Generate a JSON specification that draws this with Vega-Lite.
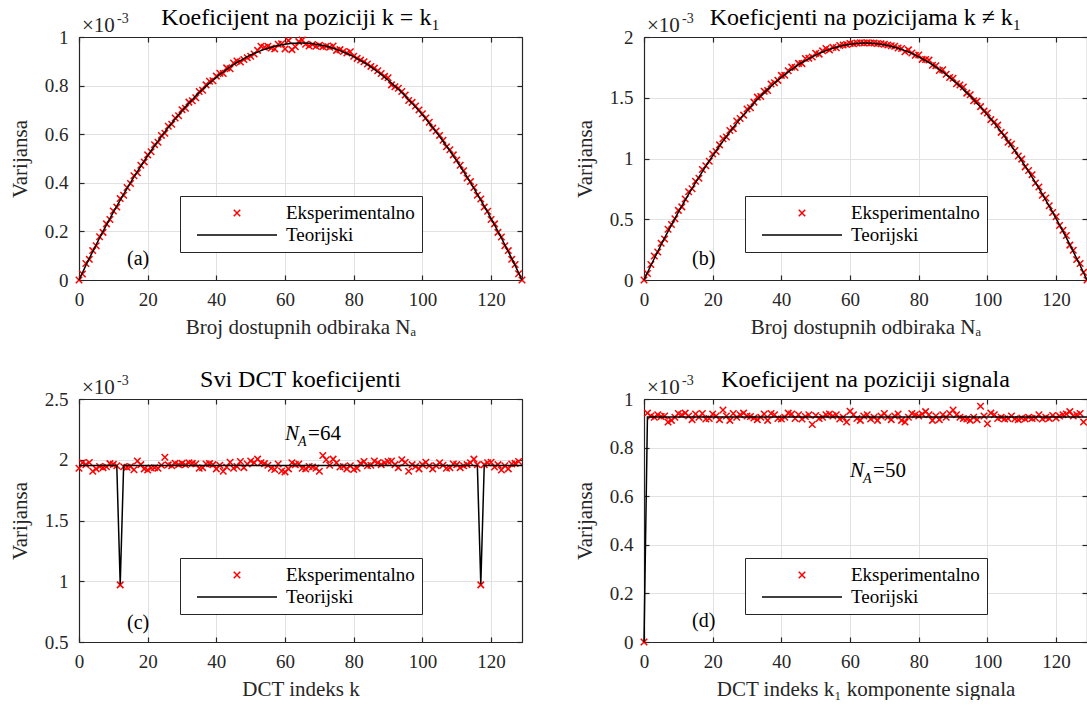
{
"$schema": "https://vega.github.io/schema/vega-lite/v6.json",
"background": "white",
"padding": {"left": 8, "top": 5, "right": 0, "bottom": 0},
"columns": 2,
"spacing": {"row": 119, "column": 122},
"bounds": "flush",
"datasets": {
"a": [{"n":0,"e":0,"t":0},{"n":1,"e":0.025,"t":0.030},{"n":2,"e":0.068,"t":0.060},{"n":3,"e":0.085,"t":0.089},{"n":4,"e":0.121,"t":0.117},{"n":5,"e":0.141,"t":0.145},{"n":6,"e":0.178,"t":0.173},{"n":7,"e":0.196,"t":0.200},{"n":8,"e":0.231,"t":0.227},{"n":9,"e":0.249,"t":0.253},{"n":10,"e":0.284,"t":0.279},{"n":11,"e":0.300,"t":0.304},{"n":12,"e":0.335,"t":0.329},{"n":13,"e":0.349,"t":0.353},{"n":14,"e":0.381,"t":0.377},{"n":15,"e":0.397,"t":0.401},{"n":16,"e":0.429,"t":0.424},{"n":17,"e":0.441,"t":0.446},{"n":18,"e":0.472,"t":0.468},{"n":19,"e":0.486,"t":0.490},{"n":20,"e":0.515,"t":0.511},{"n":21,"e":0.528,"t":0.532},{"n":22,"e":0.557,"t":0.552},{"n":23,"e":0.567,"t":0.571},{"n":24,"e":0.595,"t":0.591},{"n":25,"e":0.604,"t":0.609},{"n":26,"e":0.633,"t":0.628},{"n":27,"e":0.641,"t":0.645},{"n":28,"e":0.667,"t":0.663},{"n":29,"e":0.676,"t":0.680},{"n":30,"e":0.701,"t":0.696},{"n":31,"e":0.707,"t":0.712},{"n":32,"e":0.732,"t":0.727},{"n":33,"e":0.738,"t":0.742},{"n":34,"e":0.750,"t":0.757},{"n":35,"e":0.776,"t":0.771},{"n":36,"e":0.781,"t":0.785},{"n":37,"e":0.803,"t":0.798},{"n":38,"e":0.818,"t":0.810},{"n":39,"e":0.820,"t":0.823},{"n":40,"e":0.839,"t":0.834},{"n":41,"e":0.851,"t":0.846},{"n":42,"e":0.850,"t":0.856},{"n":43,"e":0.873,"t":0.867},{"n":44,"e":0.869,"t":0.877},{"n":45,"e":0.893,"t":0.886},{"n":46,"e":0.901,"t":0.895},{"n":47,"e":0.897,"t":0.903},{"n":48,"e":0.907,"t":0.911},{"n":49,"e":0.915,"t":0.919},{"n":50,"e":0.921,"t":0.926},{"n":51,"e":0.930,"t":0.932},{"n":52,"e":0.945,"t":0.938},{"n":53,"e":0.962,"t":0.944},{"n":54,"e":0.958,"t":0.949},{"n":55,"e":0.962,"t":0.954},{"n":56,"e":0.955,"t":0.958},{"n":57,"e":0.951,"t":0.962},{"n":58,"e":0.970,"t":0.965},{"n":59,"e":0.972,"t":0.968},{"n":60,"e":0.951,"t":0.970},{"n":61,"e":0.985,"t":0.972},{"n":62,"e":0.948,"t":0.974},{"n":63,"e":0.960,"t":0.974},{"n":64,"e":0.981,"t":0.975},{"n":65,"e":0.988,"t":0.975},{"n":66,"e":0.970,"t":0.974},{"n":67,"e":0.963,"t":0.974},{"n":68,"e":0.969,"t":0.972},{"n":69,"e":0.962,"t":0.970},{"n":70,"e":0.966,"t":0.968},{"n":71,"e":0.960,"t":0.965},{"n":72,"e":0.962,"t":0.962},{"n":73,"e":0.958,"t":0.958},{"n":74,"e":0.963,"t":0.954},{"n":75,"e":0.945,"t":0.949},{"n":76,"e":0.948,"t":0.944},{"n":77,"e":0.940,"t":0.938},{"n":78,"e":0.934,"t":0.932},{"n":79,"e":0.939,"t":0.926},{"n":80,"e":0.921,"t":0.919},{"n":81,"e":0.912,"t":0.911},{"n":82,"e":0.905,"t":0.903},{"n":83,"e":0.898,"t":0.895},{"n":84,"e":0.889,"t":0.886},{"n":85,"e":0.879,"t":0.877},{"n":86,"e":0.872,"t":0.867},{"n":87,"e":0.861,"t":0.856},{"n":88,"e":0.850,"t":0.846},{"n":89,"e":0.838,"t":0.834},{"n":90,"e":0.832,"t":0.823},{"n":91,"e":0.803,"t":0.810},{"n":92,"e":0.795,"t":0.798},{"n":93,"e":0.789,"t":0.785},{"n":94,"e":0.776,"t":0.771},{"n":95,"e":0.761,"t":0.757},{"n":96,"e":0.739,"t":0.742},{"n":97,"e":0.731,"t":0.727},{"n":98,"e":0.716,"t":0.712},{"n":99,"e":0.700,"t":0.696},{"n":100,"e":0.684,"t":0.680},{"n":101,"e":0.667,"t":0.663},{"n":102,"e":0.649,"t":0.645},{"n":103,"e":0.625,"t":0.628},{"n":104,"e":0.613,"t":0.609},{"n":105,"e":0.595,"t":0.591},{"n":106,"e":0.575,"t":0.571},{"n":107,"e":0.548,"t":0.552},{"n":108,"e":0.536,"t":0.532},{"n":109,"e":0.515,"t":0.511},{"n":110,"e":0.494,"t":0.490},{"n":111,"e":0.472,"t":0.468},{"n":112,"e":0.450,"t":0.446},{"n":113,"e":0.420,"t":0.424},{"n":114,"e":0.405,"t":0.401},{"n":115,"e":0.381,"t":0.377},{"n":116,"e":0.349,"t":0.353},{"n":117,"e":0.333,"t":0.329},{"n":118,"e":0.300,"t":0.304},{"n":119,"e":0.283,"t":0.279},{"n":120,"e":0.249,"t":0.253},{"n":121,"e":0.231,"t":0.227},{"n":122,"e":0.196,"t":0.200},{"n":123,"e":0.177,"t":0.173},{"n":124,"e":0.141,"t":0.145},{"n":125,"e":0.121,"t":0.117},{"n":126,"e":0.085,"t":0.089},{"n":127,"e":0.064,"t":0.060},{"n":128,"e":0.026,"t":0.030},{"n":129,"e":0,"t":0}],
"b": [{"n":0,"e":0,"t":0},{"n":1,"e":0.054,"t":0.060},{"n":2,"e":0.128,"t":0.119},{"n":3,"e":0.197,"t":0.177},{"n":4,"e":0.230,"t":0.234},{"n":5,"e":0.302,"t":0.291},{"n":6,"e":0.337,"t":0.346},{"n":7,"e":0.417,"t":0.400},{"n":8,"e":0.457,"t":0.454},{"n":9,"e":0.504,"t":0.506},{"n":10,"e":0.573,"t":0.558},{"n":11,"e":0.602,"t":0.608},{"n":12,"e":0.667,"t":0.658},{"n":13,"e":0.727,"t":0.707},{"n":14,"e":0.751,"t":0.755},{"n":15,"e":0.813,"t":0.802},{"n":16,"e":0.838,"t":0.847},{"n":17,"e":0.909,"t":0.892},{"n":18,"e":0.940,"t":0.937},{"n":19,"e":0.978,"t":0.980},{"n":20,"e":1.037,"t":1.022},{"n":21,"e":1.057,"t":1.063},{"n":22,"e":1.112,"t":1.103},{"n":23,"e":1.163,"t":1.143},{"n":24,"e":1.177,"t":1.181},{"n":25,"e":1.230,"t":1.219},{"n":26,"e":1.246,"t":1.255},{"n":27,"e":1.308,"t":1.291},{"n":28,"e":1.329,"t":1.326},{"n":29,"e":1.357,"t":1.359},{"n":30,"e":1.407,"t":1.392},{"n":31,"e":1.418,"t":1.424},{"n":32,"e":1.464,"t":1.455},{"n":33,"e":1.505,"t":1.485},{"n":34,"e":1.510,"t":1.514},{"n":35,"e":1.553,"t":1.542},{"n":36,"e":1.560,"t":1.569},{"n":37,"e":1.613,"t":1.596},{"n":38,"e":1.624,"t":1.621},{"n":39,"e":1.643,"t":1.645},{"n":40,"e":1.684,"t":1.669},{"n":41,"e":1.685,"t":1.691},{"n":42,"e":1.722,"t":1.713},{"n":43,"e":1.753,"t":1.733},{"n":44,"e":1.749,"t":1.753},{"n":45,"e":1.783,"t":1.772},{"n":46,"e":1.781,"t":1.790},{"n":47,"e":1.823,"t":1.806},{"n":48,"e":1.825,"t":1.822},{"n":49,"e":1.835,"t":1.837},{"n":50,"e":1.866,"t":1.851},{"n":51,"e":1.859,"t":1.865},{"n":52,"e":1.886,"t":1.877},{"n":53,"e":1.905,"t":1.888},{"n":54,"e":1.894,"t":1.898},{"n":55,"e":1.915,"t":1.908},{"n":56,"e":1.912,"t":1.916},{"n":57,"e":1.930,"t":1.924},{"n":58,"e":1.934,"t":1.930},{"n":59,"e":1.938,"t":1.936},{"n":60,"e":1.947,"t":1.941},{"n":61,"e":1.945,"t":1.944},{"n":62,"e":1.950,"t":1.947},{"n":63,"e":1.952,"t":1.949},{"n":64,"e":1.951,"t":1.950},{"n":65,"e":1.953,"t":1.950},{"n":66,"e":1.950,"t":1.949},{"n":67,"e":1.951,"t":1.947},{"n":68,"e":1.947,"t":1.944},{"n":69,"e":1.944,"t":1.941},{"n":70,"e":1.940,"t":1.936},{"n":71,"e":1.935,"t":1.930},{"n":72,"e":1.928,"t":1.924},{"n":73,"e":1.924,"t":1.916},{"n":74,"e":1.910,"t":1.908},{"n":75,"e":1.905,"t":1.898},{"n":76,"e":1.879,"t":1.888},{"n":77,"e":1.894,"t":1.877},{"n":78,"e":1.868,"t":1.865},{"n":79,"e":1.849,"t":1.851},{"n":80,"e":1.852,"t":1.837},{"n":81,"e":1.816,"t":1.822},{"n":82,"e":1.815,"t":1.806},{"n":83,"e":1.810,"t":1.790},{"n":84,"e":1.768,"t":1.772},{"n":85,"e":1.764,"t":1.753},{"n":86,"e":1.724,"t":1.733},{"n":87,"e":1.730,"t":1.713},{"n":88,"e":1.694,"t":1.691},{"n":89,"e":1.667,"t":1.669},{"n":90,"e":1.660,"t":1.645},{"n":91,"e":1.615,"t":1.621},{"n":92,"e":1.605,"t":1.596},{"n":93,"e":1.589,"t":1.569},{"n":94,"e":1.538,"t":1.542},{"n":95,"e":1.525,"t":1.514},{"n":96,"e":1.476,"t":1.485},{"n":97,"e":1.472,"t":1.455},{"n":98,"e":1.427,"t":1.424},{"n":99,"e":1.390,"t":1.392},{"n":100,"e":1.374,"t":1.359},{"n":101,"e":1.320,"t":1.326},{"n":102,"e":1.300,"t":1.291},{"n":103,"e":1.275,"t":1.255},{"n":104,"e":1.215,"t":1.219},{"n":105,"e":1.192,"t":1.181},{"n":106,"e":1.134,"t":1.143},{"n":107,"e":1.120,"t":1.103},{"n":108,"e":1.066,"t":1.063},{"n":109,"e":1.020,"t":1.022},{"n":110,"e":0.995,"t":0.980},{"n":111,"e":0.931,"t":0.937},{"n":112,"e":0.901,"t":0.892},{"n":113,"e":0.867,"t":0.847},{"n":114,"e":0.798,"t":0.802},{"n":115,"e":0.766,"t":0.755},{"n":116,"e":0.698,"t":0.707},{"n":117,"e":0.675,"t":0.658},{"n":118,"e":0.611,"t":0.608},{"n":119,"e":0.556,"t":0.558},{"n":120,"e":0.521,"t":0.506},{"n":121,"e":0.448,"t":0.454},{"n":122,"e":0.409,"t":0.400},{"n":123,"e":0.366,"t":0.346},{"n":124,"e":0.287,"t":0.291},{"n":125,"e":0.245,"t":0.234},{"n":126,"e":0.168,"t":0.177},{"n":127,"e":0.136,"t":0.119},{"n":128,"e":0.063,"t":0.060},{"n":129,"e":0,"t":0}],
"c": [{"n":0,"e":1.930,"t":1.953},{"n":1,"e":1.975,"t":1.953},{"n":2,"e":1.960,"t":1.953},{"n":3,"e":1.978,"t":1.953},{"n":4,"e":1.905,"t":1.953},{"n":5,"e":1.925,"t":1.953},{"n":6,"e":1.945,"t":1.953},{"n":7,"e":1.935,"t":1.953},{"n":8,"e":1.942,"t":1.953},{"n":9,"e":1.968,"t":1.953},{"n":10,"e":1.962,"t":1.953},{"n":11,"e":1.950,"t":1.953},{"n":12,"e":0.970,"t":0.976},{"n":13,"e":1.942,"t":1.953},{"n":14,"e":1.938,"t":1.953},{"n":15,"e":1.945,"t":1.953},{"n":16,"e":1.918,"t":1.953},{"n":17,"e":1.990,"t":1.953},{"n":18,"e":1.960,"t":1.953},{"n":19,"e":1.925,"t":1.953},{"n":20,"e":1.915,"t":1.953},{"n":21,"e":1.932,"t":1.953},{"n":22,"e":1.935,"t":1.953},{"n":23,"e":1.930,"t":1.953},{"n":24,"e":1.955,"t":1.953},{"n":25,"e":2.020,"t":1.953},{"n":26,"e":1.958,"t":1.953},{"n":27,"e":1.950,"t":1.953},{"n":28,"e":1.972,"t":1.953},{"n":29,"e":1.960,"t":1.953},{"n":30,"e":1.970,"t":1.953},{"n":31,"e":1.958,"t":1.953},{"n":32,"e":1.975,"t":1.953},{"n":33,"e":1.970,"t":1.953},{"n":34,"e":1.965,"t":1.953},{"n":35,"e":1.930,"t":1.953},{"n":36,"e":1.935,"t":1.953},{"n":37,"e":1.965,"t":1.953},{"n":38,"e":1.968,"t":1.953},{"n":39,"e":1.960,"t":1.953},{"n":40,"e":1.925,"t":1.953},{"n":41,"e":1.955,"t":1.953},{"n":42,"e":1.905,"t":1.953},{"n":43,"e":1.940,"t":1.953},{"n":44,"e":1.980,"t":1.953},{"n":45,"e":1.930,"t":1.953},{"n":46,"e":1.945,"t":1.953},{"n":47,"e":1.985,"t":1.953},{"n":48,"e":1.935,"t":1.953},{"n":49,"e":1.965,"t":1.953},{"n":50,"e":1.990,"t":1.953},{"n":51,"e":1.975,"t":1.953},{"n":52,"e":2.005,"t":1.953},{"n":53,"e":1.975,"t":1.953},{"n":54,"e":1.968,"t":1.953},{"n":55,"e":1.955,"t":1.953},{"n":56,"e":1.930,"t":1.953},{"n":57,"e":1.920,"t":1.953},{"n":58,"e":1.965,"t":1.953},{"n":59,"e":1.908,"t":1.953},{"n":60,"e":1.900,"t":1.953},{"n":61,"e":1.925,"t":1.953},{"n":62,"e":1.975,"t":1.953},{"n":63,"e":1.960,"t":1.953},{"n":64,"e":1.965,"t":1.953},{"n":65,"e":1.930,"t":1.953},{"n":66,"e":1.925,"t":1.953},{"n":67,"e":1.945,"t":1.953},{"n":68,"e":1.940,"t":1.953},{"n":69,"e":1.930,"t":1.953},{"n":70,"e":1.905,"t":1.953},{"n":71,"e":2.035,"t":1.953},{"n":72,"e":2.000,"t":1.953},{"n":73,"e":1.955,"t":1.953},{"n":74,"e":2.005,"t":1.953},{"n":75,"e":1.975,"t":1.953},{"n":76,"e":1.940,"t":1.953},{"n":77,"e":1.945,"t":1.953},{"n":78,"e":1.925,"t":1.953},{"n":79,"e":1.950,"t":1.953},{"n":80,"e":1.920,"t":1.953},{"n":81,"e":1.930,"t":1.953},{"n":82,"e":1.970,"t":1.953},{"n":83,"e":1.985,"t":1.953},{"n":84,"e":1.950,"t":1.953},{"n":85,"e":1.955,"t":1.953},{"n":86,"e":1.990,"t":1.953},{"n":87,"e":1.975,"t":1.953},{"n":88,"e":1.960,"t":1.953},{"n":89,"e":1.975,"t":1.953},{"n":90,"e":1.985,"t":1.953},{"n":91,"e":1.990,"t":1.953},{"n":92,"e":1.960,"t":1.953},{"n":93,"e":1.935,"t":1.953},{"n":94,"e":2.000,"t":1.953},{"n":95,"e":1.980,"t":1.953},{"n":96,"e":1.905,"t":1.953},{"n":97,"e":1.960,"t":1.953},{"n":98,"e":1.945,"t":1.953},{"n":99,"e":1.925,"t":1.953},{"n":100,"e":1.960,"t":1.953},{"n":101,"e":1.980,"t":1.953},{"n":102,"e":1.950,"t":1.953},{"n":103,"e":1.925,"t":1.953},{"n":104,"e":1.950,"t":1.953},{"n":105,"e":1.975,"t":1.953},{"n":106,"e":1.955,"t":1.953},{"n":107,"e":1.930,"t":1.953},{"n":108,"e":1.935,"t":1.953},{"n":109,"e":1.965,"t":1.953},{"n":110,"e":1.960,"t":1.953},{"n":111,"e":1.935,"t":1.953},{"n":112,"e":1.950,"t":1.953},{"n":113,"e":1.960,"t":1.953},{"n":114,"e":1.975,"t":1.953},{"n":115,"e":2.005,"t":1.953},{"n":116,"e":1.960,"t":1.953},{"n":117,"e":0.970,"t":0.976},{"n":118,"e":1.960,"t":1.953},{"n":119,"e":1.975,"t":1.953},{"n":120,"e":1.980,"t":1.953},{"n":121,"e":1.940,"t":1.953},{"n":122,"e":1.960,"t":1.953},{"n":123,"e":1.915,"t":1.953},{"n":124,"e":1.950,"t":1.953},{"n":125,"e":1.925,"t":1.953},{"n":126,"e":1.965,"t":1.953},{"n":127,"e":1.970,"t":1.953},{"n":128,"e":1.985,"t":1.953},{"n":129,"t":1.953}],
"d": [{"n":0,"e":0,"t":0},{"n":1,"e":0.942,"t":0.926},{"n":2,"e":0.930,"t":0.926},{"n":3,"e":0.925,"t":0.926},{"n":4,"e":0.935,"t":0.926},{"n":5,"e":0.928,"t":0.926},{"n":6,"e":0.930,"t":0.926},{"n":7,"e":0.905,"t":0.926},{"n":8,"e":0.912,"t":0.926},{"n":9,"e":0.925,"t":0.926},{"n":10,"e":0.940,"t":0.926},{"n":11,"e":0.935,"t":0.926},{"n":12,"e":0.942,"t":0.926},{"n":13,"e":0.930,"t":0.926},{"n":14,"e":0.915,"t":0.926},{"n":15,"e":0.938,"t":0.926},{"n":16,"e":0.925,"t":0.926},{"n":17,"e":0.940,"t":0.926},{"n":18,"e":0.918,"t":0.926},{"n":19,"e":0.920,"t":0.926},{"n":20,"e":0.938,"t":0.926},{"n":21,"e":0.930,"t":0.926},{"n":22,"e":0.915,"t":0.926},{"n":23,"e":0.955,"t":0.926},{"n":24,"e":0.930,"t":0.926},{"n":25,"e":0.912,"t":0.926},{"n":26,"e":0.940,"t":0.926},{"n":27,"e":0.925,"t":0.926},{"n":28,"e":0.935,"t":0.926},{"n":29,"e":0.942,"t":0.926},{"n":30,"e":0.930,"t":0.926},{"n":31,"e":0.928,"t":0.926},{"n":32,"e":0.922,"t":0.926},{"n":33,"e":0.915,"t":0.926},{"n":34,"e":0.925,"t":0.926},{"n":35,"e":0.938,"t":0.926},{"n":36,"e":0.912,"t":0.926},{"n":37,"e":0.940,"t":0.926},{"n":38,"e":0.935,"t":0.926},{"n":39,"e":0.920,"t":0.926},{"n":40,"e":0.918,"t":0.926},{"n":41,"e":0.925,"t":0.926},{"n":42,"e":0.942,"t":0.926},{"n":43,"e":0.938,"t":0.926},{"n":44,"e":0.920,"t":0.926},{"n":45,"e":0.935,"t":0.926},{"n":46,"e":0.918,"t":0.926},{"n":47,"e":0.928,"t":0.926},{"n":48,"e":0.935,"t":0.926},{"n":49,"e":0.895,"t":0.926},{"n":50,"e":0.932,"t":0.926},{"n":51,"e":0.920,"t":0.926},{"n":52,"e":0.925,"t":0.926},{"n":53,"e":0.935,"t":0.926},{"n":54,"e":0.938,"t":0.926},{"n":55,"e":0.930,"t":0.926},{"n":56,"e":0.935,"t":0.926},{"n":57,"e":0.918,"t":0.926},{"n":58,"e":0.925,"t":0.926},{"n":59,"e":0.905,"t":0.926},{"n":60,"e":0.950,"t":0.926},{"n":61,"e":0.935,"t":0.926},{"n":62,"e":0.920,"t":0.926},{"n":63,"e":0.912,"t":0.926},{"n":64,"e":0.930,"t":0.926},{"n":65,"e":0.935,"t":0.926},{"n":66,"e":0.918,"t":0.926},{"n":67,"e":0.925,"t":0.926},{"n":68,"e":0.912,"t":0.926},{"n":69,"e":0.930,"t":0.926},{"n":70,"e":0.940,"t":0.926},{"n":71,"e":0.925,"t":0.926},{"n":72,"e":0.915,"t":0.926},{"n":73,"e":0.930,"t":0.926},{"n":74,"e":0.938,"t":0.926},{"n":75,"e":0.912,"t":0.926},{"n":76,"e":0.905,"t":0.926},{"n":77,"e":0.925,"t":0.926},{"n":78,"e":0.940,"t":0.926},{"n":79,"e":0.935,"t":0.926},{"n":80,"e":0.930,"t":0.926},{"n":81,"e":0.938,"t":0.926},{"n":82,"e":0.948,"t":0.926},{"n":83,"e":0.935,"t":0.926},{"n":84,"e":0.912,"t":0.926},{"n":85,"e":0.930,"t":0.926},{"n":86,"e":0.915,"t":0.926},{"n":87,"e":0.935,"t":0.926},{"n":88,"e":0.925,"t":0.926},{"n":89,"e":0.940,"t":0.926},{"n":90,"e":0.955,"t":0.926},{"n":91,"e":0.935,"t":0.926},{"n":92,"e":0.925,"t":0.926},{"n":93,"e":0.920,"t":0.926},{"n":94,"e":0.918,"t":0.926},{"n":95,"e":0.912,"t":0.926},{"n":96,"e":0.925,"t":0.926},{"n":97,"e":0.915,"t":0.926},{"n":98,"e":0.970,"t":0.926},{"n":99,"e":0.930,"t":0.926},{"n":100,"e":0.898,"t":0.926},{"n":101,"e":0.942,"t":0.926},{"n":102,"e":0.935,"t":0.926},{"n":103,"e":0.920,"t":0.926},{"n":104,"e":0.925,"t":0.926},{"n":105,"e":0.918,"t":0.926},{"n":106,"e":0.920,"t":0.926},{"n":107,"e":0.930,"t":0.926},{"n":108,"e":0.918,"t":0.926},{"n":109,"e":0.915,"t":0.926},{"n":110,"e":0.922,"t":0.926},{"n":111,"e":0.918,"t":0.926},{"n":112,"e":0.925,"t":0.926},{"n":113,"e":0.920,"t":0.926},{"n":114,"e":0.922,"t":0.926},{"n":115,"e":0.935,"t":0.926},{"n":116,"e":0.918,"t":0.926},{"n":117,"e":0.925,"t":0.926},{"n":118,"e":0.920,"t":0.926},{"n":119,"e":0.932,"t":0.926},{"n":120,"e":0.922,"t":0.926},{"n":121,"e":0.930,"t":0.926},{"n":122,"e":0.935,"t":0.926},{"n":123,"e":0.938,"t":0.926},{"n":124,"e":0.948,"t":0.926},{"n":125,"e":0.930,"t":0.926},{"n":126,"e":0.935,"t":0.926},{"n":127,"e":0.940,"t":0.926},{"n":128,"e":0.905,"t":0.926},{"n":129,"t":0.926}]
},
"resolve": {"scale": {"color": "independent", "shape": "independent", "size": "independent"}, "legend": {"color": "independent", "shape": "independent", "size": "independent"}},
"concat": [
{
"width": 443, "height": 243,
"title": {"text": "Koeficijent na poziciji k = k₁"},
"data": {"name": "a"},
"resolve": {"axis": {"x": "independent", "y": "independent"}},
"layer": [
{"mark": {"type": "point", "filled": false, "strokeWidth": 1.5, "opacity": 1},
 "encoding": {
  "x": {"field": "n", "type": "quantitative", "scale": {"domain": [0, 129], "nice": false, "zero": false}, "axis": {"values": [0,20,40,60,80,100,120], "title": "Broj dostupnih odbiraka Nₐ"}},
  "y": {"field": "e", "type": "quantitative", "scale": {"domain": [0, 1], "nice": false, "zero": false}, "axis": {"values": [0,0.2,0.4,0.6,0.8,1], "format": "~g", "title": "Varijansa"}},
  "color": {"datum": "Eksperimentalno", "type": "nominal", "scale": {"domain": ["Eksperimentalno", "Teorijski"], "range": ["#ff0000", "#000000"]}, "legend": {"title": null, "orient": "none", "legendX": 101, "legendY": 159}},
  "shape": {"datum": "Eksperimentalno", "type": "nominal", "scale": {"domain": ["Eksperimentalno", "Teorijski"], "range": ["M-1,-1L1,1M1,-1L-1,1", "stroke"]}, "legend": {"title": null, "orient": "none", "legendX": 101, "legendY": 159}},
  "size": {"datum": "Eksperimentalno", "type": "nominal", "scale": {"type": "ordinal", "domain": ["Eksperimentalno", "Teorijski"], "range": [42, 6400]}, "legend": {"title": null, "orient": "none", "legendX": 101, "legendY": 159}}
 }},
{"mark": {"type": "line", "color": "black", "strokeWidth": 1.5},
 "encoding": {
  "x": {"field": "n", "type": "quantitative", "axis": {"orient": "top", "labels": false, "grid": false, "title": null, "values": [0,20,40,60,80,100,120]}},
  "y": {"field": "t", "type": "quantitative", "axis": {"orient": "right", "labels": false, "grid": false, "title": null, "values": [0,0.2,0.4,0.6,0.8,1]}}
 }},
{"data": {"values": [{"n": 14, "v": 0.085, "s": "(a)"}]},
 "mark": {"type": "text", "align": "left", "fontSize": 20, "font": "Liberation Serif", "color": "black"},
 "encoding": {"x": {"field": "n", "type": "quantitative", "axis": null}, "y": {"field": "v", "type": "quantitative", "axis": null}, "text": {"field": "s"}}},
{"data": {"values": [{"n": 0, "v": 1, "s": "×10"}]},
 "mark": {"type": "text", "align": "left", "baseline": "alphabetic", "dx": 3, "dy": -5, "fontSize": 21, "font": "Liberation Serif", "color": "#262626"},
 "encoding": {"x": {"field": "n", "type": "quantitative", "axis": null}, "y": {"field": "v", "type": "quantitative", "axis": null}, "text": {"field": "s"}}},
{"data": {"values": [{"n": 0, "v": 1, "s": "-3"}]},
 "mark": {"type": "text", "align": "left", "baseline": "alphabetic", "dx": 38, "dy": -14, "fontSize": 14, "font": "Liberation Serif", "color": "#262626"},
 "encoding": {"x": {"field": "n", "type": "quantitative", "axis": null}, "y": {"field": "v", "type": "quantitative", "axis": null}, "text": {"field": "s"}}}
]
},
{
"width": 443, "height": 243,
"title": {"text": "Koeficjenti na pozicijama k ≠ k₁"},
"data": {"name": "b"},
"resolve": {"axis": {"x": "independent", "y": "independent"}},
"layer": [
{"mark": {"type": "point", "filled": false, "strokeWidth": 1.5, "opacity": 1},
 "encoding": {
  "x": {"field": "n", "type": "quantitative", "scale": {"domain": [0, 129], "nice": false, "zero": false}, "axis": {"values": [0,20,40,60,80,100,120], "title": "Broj dostupnih odbiraka Nₐ"}},
  "y": {"field": "e", "type": "quantitative", "scale": {"domain": [0, 2], "nice": false, "zero": false}, "axis": {"values": [0,0.5,1,1.5,2], "format": "~g", "title": "Varijansa"}},
  "color": {"datum": "Eksperimentalno", "type": "nominal", "scale": {"domain": ["Eksperimentalno", "Teorijski"], "range": ["#ff0000", "#000000"]}, "legend": {"title": null, "orient": "none", "legendX": 101, "legendY": 159}},
  "shape": {"datum": "Eksperimentalno", "type": "nominal", "scale": {"domain": ["Eksperimentalno", "Teorijski"], "range": ["M-1,-1L1,1M1,-1L-1,1", "stroke"]}, "legend": {"title": null, "orient": "none", "legendX": 101, "legendY": 159}},
  "size": {"datum": "Eksperimentalno", "type": "nominal", "scale": {"type": "ordinal", "domain": ["Eksperimentalno", "Teorijski"], "range": [42, 6400]}, "legend": {"title": null, "orient": "none", "legendX": 101, "legendY": 159}}
 }},
{"mark": {"type": "line", "color": "black", "strokeWidth": 1.5},
 "encoding": {
  "x": {"field": "n", "type": "quantitative", "axis": {"orient": "top", "labels": false, "grid": false, "title": null, "values": [0,20,40,60,80,100,120]}},
  "y": {"field": "t", "type": "quantitative", "axis": {"orient": "right", "labels": false, "grid": false, "title": null, "values": [0,0.5,1,1.5,2]}}
 }},
{"data": {"values": [{"n": 14, "v": 0.175, "s": "(b)"}]},
 "mark": {"type": "text", "align": "left", "fontSize": 20, "font": "Liberation Serif", "color": "black"},
 "encoding": {"x": {"field": "n", "type": "quantitative", "axis": null}, "y": {"field": "v", "type": "quantitative", "axis": null}, "text": {"field": "s"}}},
{"data": {"values": [{"n": 0, "v": 2, "s": "×10"}]},
 "mark": {"type": "text", "align": "left", "baseline": "alphabetic", "dx": 3, "dy": -5, "fontSize": 21, "font": "Liberation Serif", "color": "#262626"},
 "encoding": {"x": {"field": "n", "type": "quantitative", "axis": null}, "y": {"field": "v", "type": "quantitative", "axis": null}, "text": {"field": "s"}}},
{"data": {"values": [{"n": 0, "v": 2, "s": "-3"}]},
 "mark": {"type": "text", "align": "left", "baseline": "alphabetic", "dx": 38, "dy": -14, "fontSize": 14, "font": "Liberation Serif", "color": "#262626"},
 "encoding": {"x": {"field": "n", "type": "quantitative", "axis": null}, "y": {"field": "v", "type": "quantitative", "axis": null}, "text": {"field": "s"}}}
]
},
{
"width": 443, "height": 243,
"title": {"text": "Svi DCT koeficijenti"},
"data": {"name": "c"},
"resolve": {"axis": {"x": "independent", "y": "independent"}},
"layer": [
{"mark": {"type": "point", "filled": false, "strokeWidth": 1.5, "opacity": 1},
 "encoding": {
  "x": {"field": "n", "type": "quantitative", "scale": {"domain": [0, 129], "nice": false, "zero": false}, "axis": {"values": [0,20,40,60,80,100,120], "title": "DCT indeks k"}},
  "y": {"field": "e", "type": "quantitative", "scale": {"domain": [0.5, 2.5], "nice": false, "zero": false}, "axis": {"values": [0.5,1,1.5,2,2.5], "format": "~g", "title": "Varijansa"}},
  "color": {"datum": "Eksperimentalno", "type": "nominal", "scale": {"domain": ["Eksperimentalno", "Teorijski"], "range": ["#ff0000", "#000000"]}, "legend": {"title": null, "orient": "none", "legendX": 101, "legendY": 159}},
  "shape": {"datum": "Eksperimentalno", "type": "nominal", "scale": {"domain": ["Eksperimentalno", "Teorijski"], "range": ["M-1,-1L1,1M1,-1L-1,1", "stroke"]}, "legend": {"title": null, "orient": "none", "legendX": 101, "legendY": 159}},
  "size": {"datum": "Eksperimentalno", "type": "nominal", "scale": {"type": "ordinal", "domain": ["Eksperimentalno", "Teorijski"], "range": [42, 6400]}, "legend": {"title": null, "orient": "none", "legendX": 101, "legendY": 159}}
 }},
{"mark": {"type": "line", "color": "black", "strokeWidth": 1.5},
 "encoding": {
  "x": {"field": "n", "type": "quantitative", "axis": {"orient": "top", "labels": false, "grid": false, "title": null, "values": [0,20,40,60,80,100,120]}},
  "y": {"field": "t", "type": "quantitative", "axis": {"orient": "right", "labels": false, "grid": false, "title": null, "values": [0.5,1,1.5,2,2.5]}}
 }},
{"data": {"values": [{"n": 14, "v": 0.66, "s": "(c)"}]},
 "mark": {"type": "text", "align": "left", "fontSize": 20, "font": "Liberation Serif", "color": "black"},
 "encoding": {"x": {"field": "n", "type": "quantitative", "axis": null}, "y": {"field": "v", "type": "quantitative", "axis": null}, "text": {"field": "s"}}},
{"data": {"values": [{"n": 60, "v": 2.16, "s": "N"}]},
 "mark": {"type": "text", "align": "left", "baseline": "alphabetic", "fontSize": 21, "fontStyle": "italic", "font": "Liberation Serif", "color": "black"},
 "encoding": {"x": {"field": "n", "type": "quantitative", "axis": null}, "y": {"field": "v", "type": "quantitative", "axis": null}, "text": {"field": "s"}}},
{"data": {"values": [{"n": 60, "v": 2.16, "s": "A"}]},
 "mark": {"type": "text", "align": "left", "baseline": "alphabetic", "dx": 13, "dy": 6, "fontSize": 14, "fontStyle": "italic", "font": "Liberation Serif", "color": "black"},
 "encoding": {"x": {"field": "n", "type": "quantitative", "axis": null}, "y": {"field": "v", "type": "quantitative", "axis": null}, "text": {"field": "s"}}},
{"data": {"values": [{"n": 60, "v": 2.16, "s": "=64"}]},
 "mark": {"type": "text", "align": "left", "baseline": "alphabetic", "dx": 23, "fontSize": 21, "font": "Liberation Serif", "color": "black"},
 "encoding": {"x": {"field": "n", "type": "quantitative", "axis": null}, "y": {"field": "v", "type": "quantitative", "axis": null}, "text": {"field": "s"}}},
{"data": {"values": [{"n": 0, "v": 2.5, "s": "×10"}]},
 "mark": {"type": "text", "align": "left", "baseline": "alphabetic", "dx": 3, "dy": -5, "fontSize": 21, "font": "Liberation Serif", "color": "#262626"},
 "encoding": {"x": {"field": "n", "type": "quantitative", "axis": null}, "y": {"field": "v", "type": "quantitative", "axis": null}, "text": {"field": "s"}}},
{"data": {"values": [{"n": 0, "v": 2.5, "s": "-3"}]},
 "mark": {"type": "text", "align": "left", "baseline": "alphabetic", "dx": 38, "dy": -14, "fontSize": 14, "font": "Liberation Serif", "color": "#262626"},
 "encoding": {"x": {"field": "n", "type": "quantitative", "axis": null}, "y": {"field": "v", "type": "quantitative", "axis": null}, "text": {"field": "s"}}}
]
},
{
"width": 443, "height": 243,
"title": {"text": "Koeficijent na poziciji signala"},
"data": {"name": "d"},
"resolve": {"axis": {"x": "independent", "y": "independent"}},
"layer": [
{"mark": {"type": "point", "filled": false, "strokeWidth": 1.5, "opacity": 1},
 "encoding": {
  "x": {"field": "n", "type": "quantitative", "scale": {"domain": [0, 129], "nice": false, "zero": false}, "axis": {"values": [0,20,40,60,80,100,120], "title": "DCT indeks k₁ komponente signala"}},
  "y": {"field": "e", "type": "quantitative", "scale": {"domain": [0, 1], "nice": false, "zero": false}, "axis": {"values": [0,0.2,0.4,0.6,0.8,1], "format": "~g", "title": "Varijansa"}},
  "color": {"datum": "Eksperimentalno", "type": "nominal", "scale": {"domain": ["Eksperimentalno", "Teorijski"], "range": ["#ff0000", "#000000"]}, "legend": {"title": null, "orient": "none", "legendX": 101, "legendY": 159}},
  "shape": {"datum": "Eksperimentalno", "type": "nominal", "scale": {"domain": ["Eksperimentalno", "Teorijski"], "range": ["M-1,-1L1,1M1,-1L-1,1", "stroke"]}, "legend": {"title": null, "orient": "none", "legendX": 101, "legendY": 159}},
  "size": {"datum": "Eksperimentalno", "type": "nominal", "scale": {"type": "ordinal", "domain": ["Eksperimentalno", "Teorijski"], "range": [42, 6400]}, "legend": {"title": null, "orient": "none", "legendX": 101, "legendY": 159}}
 }},
{"mark": {"type": "line", "color": "black", "strokeWidth": 1.5},
 "encoding": {
  "x": {"field": "n", "type": "quantitative", "axis": {"orient": "top", "labels": false, "grid": false, "title": null, "values": [0,20,40,60,80,100,120]}},
  "y": {"field": "t", "type": "quantitative", "axis": {"orient": "right", "labels": false, "grid": false, "title": null, "values": [0,0.2,0.4,0.6,0.8,1]}}
 }},
{"data": {"values": [{"n": 14, "v": 0.085, "s": "(d)"}]},
 "mark": {"type": "text", "align": "left", "fontSize": 20, "font": "Liberation Serif", "color": "black"},
 "encoding": {"x": {"field": "n", "type": "quantitative", "axis": null}, "y": {"field": "v", "type": "quantitative", "axis": null}, "text": {"field": "s"}}},
{"data": {"values": [{"n": 60, "v": 0.68, "s": "N"}]},
 "mark": {"type": "text", "align": "left", "baseline": "alphabetic", "fontSize": 21, "fontStyle": "italic", "font": "Liberation Serif", "color": "black"},
 "encoding": {"x": {"field": "n", "type": "quantitative", "axis": null}, "y": {"field": "v", "type": "quantitative", "axis": null}, "text": {"field": "s"}}},
{"data": {"values": [{"n": 60, "v": 0.68, "s": "A"}]},
 "mark": {"type": "text", "align": "left", "baseline": "alphabetic", "dx": 13, "dy": 6, "fontSize": 14, "fontStyle": "italic", "font": "Liberation Serif", "color": "black"},
 "encoding": {"x": {"field": "n", "type": "quantitative", "axis": null}, "y": {"field": "v", "type": "quantitative", "axis": null}, "text": {"field": "s"}}},
{"data": {"values": [{"n": 60, "v": 0.68, "s": "=50"}]},
 "mark": {"type": "text", "align": "left", "baseline": "alphabetic", "dx": 23, "fontSize": 21, "font": "Liberation Serif", "color": "black"},
 "encoding": {"x": {"field": "n", "type": "quantitative", "axis": null}, "y": {"field": "v", "type": "quantitative", "axis": null}, "text": {"field": "s"}}},
{"data": {"values": [{"n": 0, "v": 1, "s": "×10"}]},
 "mark": {"type": "text", "align": "left", "baseline": "alphabetic", "dx": 3, "dy": -5, "fontSize": 21, "font": "Liberation Serif", "color": "#262626"},
 "encoding": {"x": {"field": "n", "type": "quantitative", "axis": null}, "y": {"field": "v", "type": "quantitative", "axis": null}, "text": {"field": "s"}}},
{"data": {"values": [{"n": 0, "v": 1, "s": "-3"}]},
 "mark": {"type": "text", "align": "left", "baseline": "alphabetic", "dx": 38, "dy": -14, "fontSize": 14, "font": "Liberation Serif", "color": "#262626"},
 "encoding": {"x": {"field": "n", "type": "quantitative", "axis": null}, "y": {"field": "v", "type": "quantitative", "axis": null}, "text": {"field": "s"}}}
]
}
],
"config": {
"font": "Liberation Serif",
"view": {"stroke": "#262626", "strokeWidth": 1},
"title": {"font": "Liberation Serif", "fontSize": 24, "fontWeight": "normal", "color": "black", "frame": "group", "baseline": "alphabetic", "offset": -18},
"axis": {"domain": true, "domainColor": "#262626", "domainWidth": 1.2, "grid": true, "gridColor": "#e1e1e1", "gridWidth": 1, "tickColor": "#262626", "tickSize": -5, "tickWidth": 1.2, "labelFont": "Liberation Serif", "labelFontSize": 19, "labelColor": "#262626", "labelFlush": false, "labelOverlap": false, "titleFont": "Liberation Serif", "titleFontSize": 21, "titleFontWeight": "normal", "titleColor": "#262626"},
"axisX": {"labelPadding": 15, "titlePadding": 7},
"axisY": {"labelPadding": 16, "titlePadding": 14},
"legend": {"padding": 7, "strokeColor": "#262626", "fillColor": "white", "clipHeight": 20, "rowPadding": 2, "symbolOffset": 9, "labelOffset": 8, "labelFont": "Liberation Serif", "labelFontSize": 19, "labelColor": "black", "symbolStrokeWidth": 1.5, "labelLimit": 400}
}
}
